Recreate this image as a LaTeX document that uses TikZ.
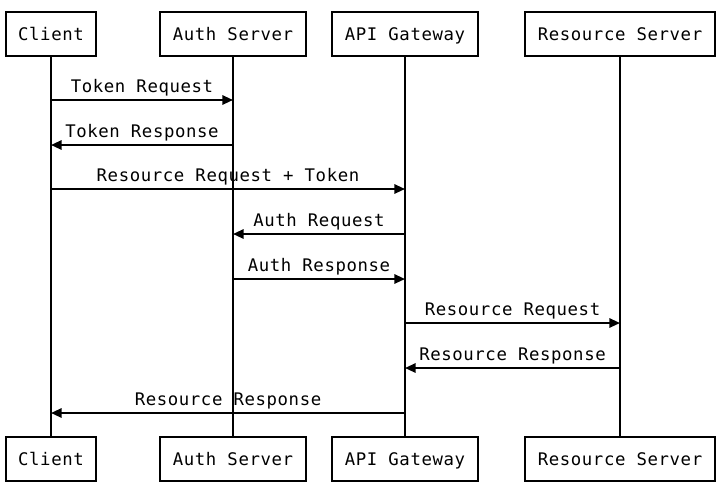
\documentclass[tikz,border=0pt]{standalone}
\usepackage{fontspec}
\newfontfamily\seqfont[LetterSpace=3.5]{DejaVu Sans Mono}
\usetikzlibrary{arrows.meta}

\begin{document}
\begin{tikzpicture}[
  x=0.75pt, y=-0.75pt,
  actor/.style={draw, line width=1.5pt, minimum height=33pt, inner xsep=9.5pt,
                text height=10pt, text depth=0.5pt,
                font=\seqfont\fontsize{13}{15}\selectfont},
  life/.style={line width=1.5pt},
  msg/.style={-{Triangle[length=8pt, width=7pt]}, line width=1.5pt},
  lbl/.style={midway, anchor=base, yshift=6pt, font=\seqfont\fontsize{13}{15}\selectfont},
]
\useasboundingbox (0,0) rectangle (728,490);

% Participants, top row
\node[actor] (cliT) at (51, 34) {Client};
\node[actor] (authT) at (233, 34) {Auth Server};
\node[actor] (gwT) at (405, 34) {API Gateway};
\node[actor] (resT) at (620, 34) {Resource Server};

% Participants, bottom row
\node[actor] (cliB) at (51, 459) {Client};
\node[actor] (authB) at (233, 459) {Auth Server};
\node[actor] (gwB) at (405, 459) {API Gateway};
\node[actor] (resB) at (620, 459) {Resource Server};

% Lifelines
\foreach \p in {cli, auth, gw, res}
  \draw[life] (\p T.south) -- (\p B.north);

% Message rows
\foreach \r/\y in {1/100, 2/145, 3/189, 4/234, 5/279, 6/323, 7/368, 8/413}
  \coordinate (row\r) at (0, \y);

% Messages
\draw[msg] (cliT |- row1) -- (authT |- row1) node[lbl] {Token Request};
\draw[msg] (authT |- row2) -- (cliT |- row2) node[lbl] {Token Response};
\draw[msg] (cliT |- row3) -- (gwT |- row3) node[lbl] {Resource Request + Token};
\draw[msg] (gwT |- row4) -- (authT |- row4) node[lbl] {Auth Request};
\draw[msg] (authT |- row5) -- (gwT |- row5) node[lbl] {Auth Response};
\draw[msg] (gwT |- row6) -- (resT |- row6) node[lbl] {Resource Request};
\draw[msg] (resT |- row7) -- (gwT |- row7) node[lbl] {Resource Response};
\draw[msg] (gwT |- row8) -- (cliT |- row8) node[lbl] {Resource Response};

\end{tikzpicture}
\end{document}
